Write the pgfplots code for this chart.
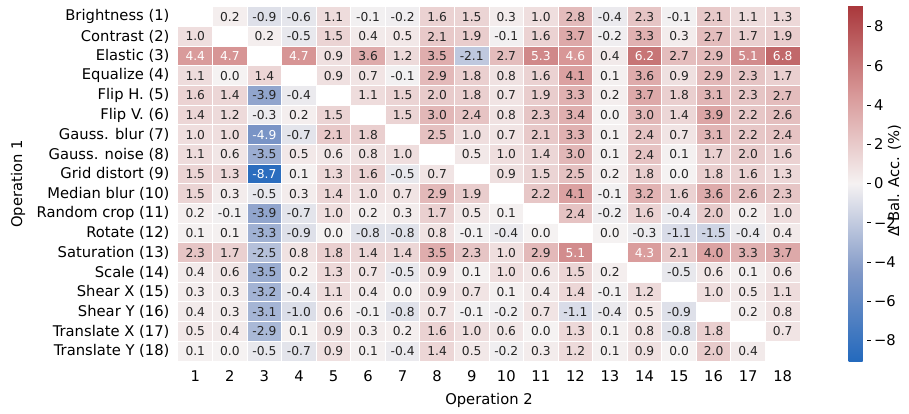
\documentclass[border=0pt]{standalone}
\usepackage{pgfplots}
\pgfplotsset{compat=1.18}
\usepackage{pgfplotstable}
\usepackage{fontspec}
\setmainfont{DejaVu Sans}

% x = operation 2, y = operation 1, v = change of balanced accuracy
\pgfplotstableread{
x y v
2 1 0.2
3 1 -0.9
4 1 -0.6
5 1 1.1
6 1 -0.1
7 1 -0.2
8 1 1.6
9 1 1.5
10 1 0.3
11 1 1.0
12 1 2.8
13 1 -0.4
14 1 2.3
15 1 -0.1
16 1 2.1
17 1 1.1
18 1 1.3
1 2 1.0
3 2 0.2
4 2 -0.5
5 2 1.5
6 2 0.4
7 2 0.5
8 2 2.1
9 2 1.9
10 2 -0.1
11 2 1.6
12 2 3.7
13 2 -0.2
14 2 3.3
15 2 0.3
16 2 2.7
17 2 1.7
18 2 1.9
1 3 4.4
2 3 4.7
4 3 4.7
5 3 0.9
6 3 3.6
7 3 1.2
8 3 3.5
9 3 -2.1
10 3 2.7
11 3 5.3
12 3 4.6
13 3 0.4
14 3 6.2
15 3 2.7
16 3 2.9
17 3 5.1
18 3 6.8
1 4 1.1
2 4 0.0
3 4 1.4
5 4 0.9
6 4 0.7
7 4 -0.1
8 4 2.9
9 4 1.8
10 4 0.8
11 4 1.6
12 4 4.1
13 4 0.1
14 4 3.6
15 4 0.9
16 4 2.9
17 4 2.3
18 4 1.7
1 5 1.6
2 5 1.4
3 5 -3.9
4 5 -0.4
6 5 1.1
7 5 1.5
8 5 2.0
9 5 1.8
10 5 0.7
11 5 1.9
12 5 3.3
13 5 0.2
14 5 3.7
15 5 1.8
16 5 3.1
17 5 2.3
18 5 2.7
1 6 1.4
2 6 1.2
3 6 -0.3
4 6 0.2
5 6 1.5
7 6 1.5
8 6 3.0
9 6 2.4
10 6 0.8
11 6 2.3
12 6 3.4
13 6 0.0
14 6 3.0
15 6 1.4
16 6 3.9
17 6 2.2
18 6 2.6
1 7 1.0
2 7 1.0
3 7 -4.9
4 7 -0.7
5 7 2.1
6 7 1.8
8 7 2.5
9 7 1.0
10 7 0.7
11 7 2.1
12 7 3.3
13 7 0.1
14 7 2.4
15 7 0.7
16 7 3.1
17 7 2.2
18 7 2.4
1 8 1.1
2 8 0.6
3 8 -3.5
4 8 0.5
5 8 0.6
6 8 0.8
7 8 1.0
9 8 0.5
10 8 1.0
11 8 1.4
12 8 3.0
13 8 0.1
14 8 2.4
15 8 0.1
16 8 1.7
17 8 2.0
18 8 1.6
1 9 1.5
2 9 1.3
3 9 -8.7
4 9 0.1
5 9 1.3
6 9 1.6
7 9 -0.5
8 9 0.7
10 9 0.9
11 9 1.5
12 9 2.5
13 9 0.2
14 9 1.8
15 9 0.0
16 9 1.8
17 9 1.6
18 9 1.3
1 10 1.5
2 10 0.3
3 10 -0.5
4 10 0.3
5 10 1.4
6 10 1.0
7 10 0.7
8 10 2.9
9 10 1.9
11 10 2.2
12 10 4.1
13 10 -0.1
14 10 3.2
15 10 1.6
16 10 3.6
17 10 2.6
18 10 2.3
1 11 0.2
2 11 -0.1
3 11 -3.9
4 11 -0.7
5 11 1.0
6 11 0.2
7 11 0.3
8 11 1.7
9 11 0.5
10 11 0.1
12 11 2.4
13 11 -0.2
14 11 1.6
15 11 -0.4
16 11 2.0
17 11 0.2
18 11 1.0
1 12 0.1
2 12 0.1
3 12 -3.3
4 12 -0.9
5 12 0.0
6 12 -0.8
7 12 -0.8
8 12 0.8
9 12 -0.1
10 12 -0.4
11 12 0.0
13 12 0.0
14 12 -0.3
15 12 -1.1
16 12 -1.5
17 12 -0.4
18 12 0.4
1 13 2.3
2 13 1.7
3 13 -2.5
4 13 0.8
5 13 1.8
6 13 1.4
7 13 1.4
8 13 3.5
9 13 2.3
10 13 1.0
11 13 2.9
12 13 5.1
14 13 4.3
15 13 2.1
16 13 4.0
17 13 3.3
18 13 3.7
1 14 0.4
2 14 0.6
3 14 -3.5
4 14 0.2
5 14 1.3
6 14 0.7
7 14 -0.5
8 14 0.9
9 14 0.1
10 14 1.0
11 14 0.6
12 14 1.5
13 14 0.2
15 14 -0.5
16 14 0.6
17 14 0.1
18 14 0.6
1 15 0.3
2 15 0.3
3 15 -3.2
4 15 -0.4
5 15 1.1
6 15 0.4
7 15 0.0
8 15 0.9
9 15 0.7
10 15 0.1
11 15 0.4
12 15 1.4
13 15 -0.1
14 15 1.2
16 15 1.0
17 15 0.5
18 15 1.1
1 16 0.4
2 16 0.3
3 16 -3.1
4 16 -1.0
5 16 0.6
6 16 -0.1
7 16 -0.8
8 16 0.7
9 16 -0.1
10 16 -0.2
11 16 0.7
12 16 -1.1
13 16 -0.4
14 16 0.5
15 16 -0.9
17 16 0.2
18 16 0.8
1 17 0.5
2 17 0.4
3 17 -2.9
4 17 0.1
5 17 0.9
6 17 0.3
7 17 0.2
8 17 1.6
9 17 1.0
10 17 0.6
11 17 0.0
12 17 1.3
13 17 0.1
14 17 0.8
15 17 -0.8
16 17 1.8
18 17 0.7
1 18 0.1
2 18 0.0
3 18 -0.5
4 18 -0.7
5 18 0.9
6 18 0.1
7 18 -0.4
8 18 1.4
9 18 0.5
10 18 -0.2
11 18 0.3
12 18 1.2
13 18 0.1
14 18 0.9
15 18 0.0
16 18 2.0
17 18 0.4
}\heat

% one heatmap cell: 622bp/18 wide, 354bp/18 high
\pgfdeclareplotmark{cell}{%
  \pgfpathrectangle{\pgfpoint{-17.28bp}{-9.83bp}}{\pgfpoint{34.56bp}{19.67bp}}%
  \pgfusepathqfillstroke}

\pgfplotsset{
  colormap={vlag}{rgb255(0)=(35,105,189) rgb255(0.25)=(128,152,199)
    rgb255(0.5)=(245,242,242) rgb255(0.75)=(216,152,152) rgb255(1)=(169,55,59)},
  celltext/.style={draw=none, mark=none, forget plot,
    point meta=explicit symbolic,
    nodes near coords={\pgfplotspointmeta},
    every node near coord/.style={anchor=center, inner sep=0pt, font=\fontsize{12.3}{14}\selectfont}},
}

\begin{document}
\begin{tikzpicture}
\useasboundingbox (0,0) rectangle (909bp,414bp);
\begin{axis}[
  at={(178bp,53bp)}, anchor=south west,
  width=622bp, height=354bp, scale only axis,
  xmin=0.5, xmax=18.5, ymin=0.5, ymax=18.5, y dir=reverse,
  axis line style={draw=none}, major tick length=0pt,
  xtick={1,...,18}, ytick={1,...,18},
  yticklabels={Brightness (1),Contrast (2),Elastic (3),Equalize (4),Flip H. (5),Flip V. (6),Gauss. blur (7),Gauss. noise (8),Grid distort (9),Median blur (10),Random crop (11),Rotate (12),Saturation (13),Scale (14),Shear X (15),Shear Y (16),Translate X (17),Translate Y (18)},
  /pgf/number format/assume math mode=true,
  tick label style={font=\fontsize{14.8}{17}\selectfont, text=black},
  xticklabel style={yshift=-6bp},
  yticklabel style={xshift=-5bp},
  xlabel={Operation 2}, ylabel={Operation 1},
  every axis x label/.style={at={(axis description cs:0.5,0)}, anchor=center, yshift=-39bp, font=\fontsize{14.8}{17}\selectfont},
  every axis y label/.style={at={(axis description cs:0,0.5)}, anchor=center, xshift=-160bp, rotate=90, font=\fontsize{14.8}{17}\selectfont},
  colormap name=vlag, point meta min=-9.1, point meta max=9.1,
  colorbar,
  colorbar style={
    at={(parent axis.north east)}, anchor=north west,
    xshift=40bp, yshift=2bp,
    width=18bp, height=357bp, scale only axis,
    axis line style={draw=none},
    ytick={-8,-6,...,8},
    yticklabels={−8,−6,−4,−2,0,2,4,6,8},
    ytick pos=right, yticklabel pos=right,
    tick align=outside, major tick length=4bp,
    tick style={black, line width=0.8bp},
    yticklabel style={font=\fontsize{14.8}{17}\selectfont},
    ylabel={Δ Bal. Acc. (\%)},
    every axis y label/.style={at={(axis description cs:1,0.5)}, anchor=center, xshift=28bp, yshift=3bp, rotate=90, font=\fontsize{14.8}{17}\selectfont},
  },
]
% coloured cells
\addplot[
  scatter, only marks, mark=cell,
  point meta=explicit,
  scatter/use mapped color={draw=white, fill=mapped color},
  mark options={line width=1bp},
] table[x=x, y=y, meta=v] {\heat};
% cell values: dark on light cells, white on strong cells
\addplot[celltext, text=black!85,
  restrict expr to domain={abs(\thisrow{v})}{0:4.2}]
  table[x=x, y=y, meta=v] {\heat};
\addplot[celltext, text=white,
  restrict expr to domain={abs(\thisrow{v})}{4.2:20}]
  table[x=x, y=y, meta=v] {\heat};
\end{axis}
\end{tikzpicture}
\end{document}
